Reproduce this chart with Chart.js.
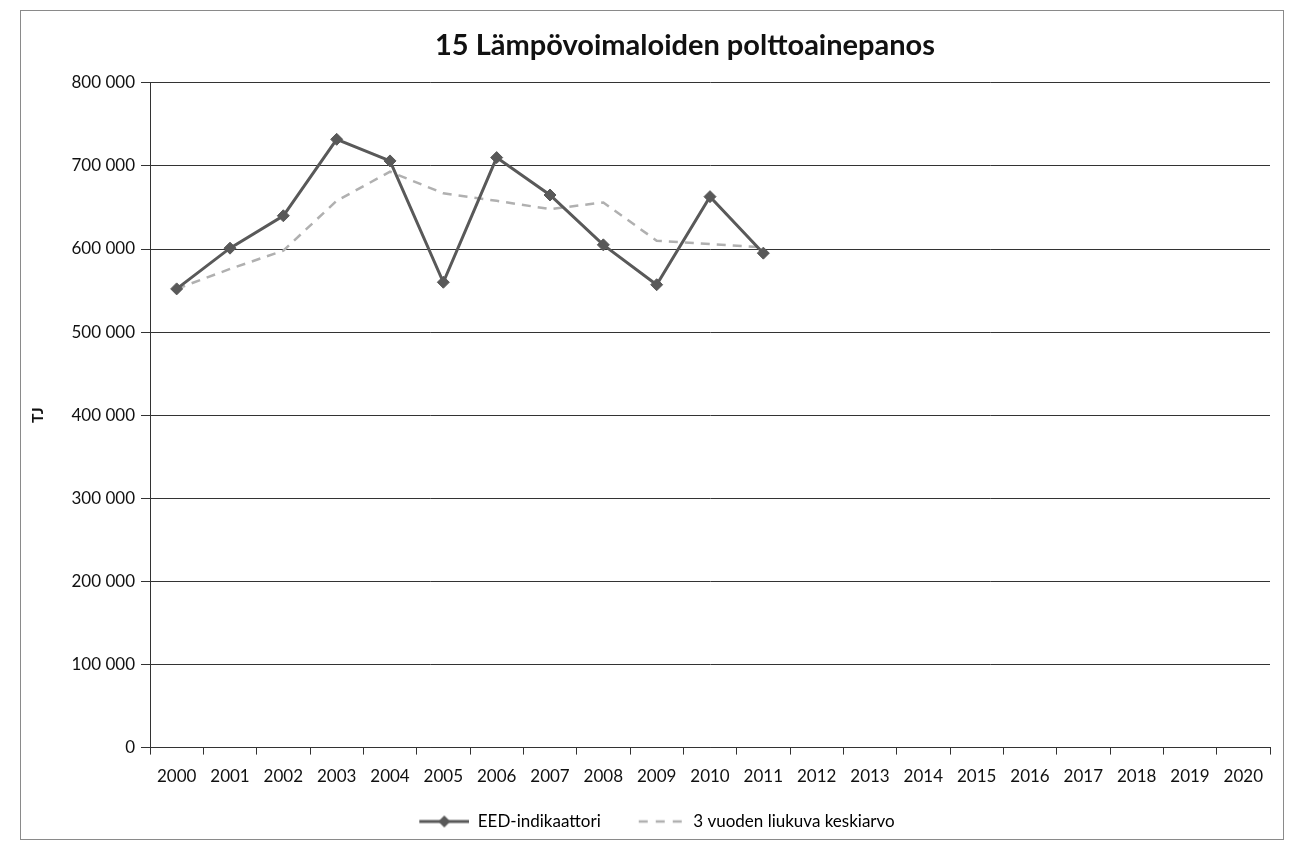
<!DOCTYPE html>
<html>
<head>
<meta charset="utf-8">
<script src="https://cdn.jsdelivr.net/npm/chart.js@4/dist/chart.umd.min.js"></script>
<style>
  html, body { margin: 0; padding: 0; background: #fff; }
  #wrap { position: absolute; left: 0; top: 0; width: 1290px; height: 850px; }
  #frame { position: absolute; left: 20px; top: 10px; width: 1262px; height: 828px; border: 1px solid #8a8a8a; pointer-events: none; }
</style>
</head>
<body>
<div id="wrap"><canvas id="c" width="1290" height="850"></canvas></div>
<div id="frame"></div>
<script>
const categories = ['2000','2001','2002','2003','2004','2005','2006','2007','2008','2009','2010','2011','2012','2013','2014','2015','2016','2017','2018','2019','2020'];
const eedValues = [552000, 601000, 640000, 732000, 706000, 560000, 710000, 665000, 605000, 557000, 663000, 595000];
const movingAvgValues = [552000, 576000, 598000, 658000, 693000, 667000, 658000, 648000, 656000, 610000, 606000, 602000];
const yTicks = [0, 100000, 200000, 300000, 400000, 500000, 600000, 700000, 800000];
const seriesNames = ['EED-indikaattori', '3 vuoden liukuva keskiarvo'];
const titleText = '15 Lämpövoimaloiden polttoainepanos';
const yAxisTitle = 'TJ';

const darkColor = '#595959';
const lightColor = '#b0b0b0';
const FONT = 'Lato, "Open Sans", sans-serif';

function legendIcon(kind) {
  const cv = document.createElement('canvas');
  cv.width = 70; cv.height = 14;
  const g = cv.getContext('2d');
  if (kind === 0) {
    g.strokeStyle = darkColor; g.lineWidth = 3;
    g.beginPath(); g.moveTo(20, 7); g.lineTo(70, 7); g.stroke();
    g.fillStyle = darkColor;
    g.beginPath(); g.moveTo(45, 1); g.lineTo(51, 7); g.lineTo(45, 13); g.lineTo(39, 7); g.closePath(); g.fill();
  } else {
    g.strokeStyle = lightColor; g.lineWidth = 2.5; g.setLineDash([9, 8]);
    g.beginPath(); g.moveTo(24, 7); g.lineTo(70, 7); g.stroke();
  }
  return cv;
}
const icons = [legendIcon(0), legendIcon(1)];

function fmt(v) {
  return String(v).replace(/\B(?=(\d{3})+(?!\d))/g, ' ');
}

const titleShift = {
  id: 'titleShift',
  afterLayout(chart) {
    const t = chart.titleBlock;
    if (t) { t.left += 76; }
  }
};

new Chart(document.getElementById('c'), {
  type: 'line',
  data: {
    labels: categories,
    datasets: [
      {
        label: seriesNames[0],
        data: eedValues,
        borderColor: darkColor,
        backgroundColor: darkColor,
        borderWidth: 3,
        pointStyle: 'rectRot',
        pointRadius: 6,
        pointHoverRadius: 6,
        pointBackgroundColor: darkColor,
        pointBorderColor: darkColor,
        pointBorderWidth: 1,
        tension: 0,
        order: 1
      },
      {
        label: seriesNames[1],
        data: movingAvgValues,
        borderColor: lightColor,
        backgroundColor: lightColor,
        borderWidth: 2.5,
        borderDash: [9, 7],
        pointRadius: 0,
        tension: 0,
        order: 2
      }
    ]
  },
  plugins: [titleShift],
  options: {
    responsive: false,
    animation: false,
    layout: { padding: { left: 24, right: 20, top: 16, bottom: 10 } },
    plugins: {
      title: {
        display: true,
        text: titleText,
        color: '#111',
        font: { family: FONT, size: 29, weight: 'bold' },
        padding: { top: 12, bottom: 20 }
      },
      legend: {
        display: true,
        position: 'bottom',
        labels: {
          usePointStyle: true,
          pointStyleWidth: 70,
          color: '#222',
          font: { family: FONT, size: 17 },
          padding: 14,
          generateLabels: (chart) => chart.data.datasets.map((ds, i) => ({
            text: ds.label,
            pointStyle: icons[i],
            fillStyle: ds.borderColor,
            strokeStyle: ds.borderColor,
            lineWidth: 0,
            datasetIndex: i,
            hidden: false
          }))
        }
      },
      tooltip: { enabled: false }
    },
    scales: {
      x: {
        type: 'category',
        offset: true,
        grid: {
          offset: true,
          drawOnChartArea: false,
          drawTicks: true,
          tickLength: 7,
          color: '#333'
        },
        border: { display: true, color: '#333', width: 1 },
        ticks: {
          color: '#111',
          font: { family: FONT, size: 17 },
          maxRotation: 0,
          autoSkip: false,
          padding: 12
        }
      },
      y: {
        min: 0,
        max: 800000,
        afterBuildTicks: (scale) => { scale.ticks = yTicks.map(v => ({ value: v })); },
        afterFit: (scale) => { scale.width = 126; },
        grid: {
          color: '#333',
          lineWidth: 1,
          drawTicks: true,
          tickLength: 9
        },
        border: { display: true, color: '#333', width: 1 },
        ticks: {
          color: '#111',
          font: { family: FONT, size: 17 },
          padding: 6,
          callback: (v) => fmt(v)
        },
        title: {
          display: true,
          text: yAxisTitle,
          color: '#111',
          font: { family: FONT, size: 16, weight: 'bold' },
          padding: { top: 4, bottom: 10 }
        }
      }
    }
  }
});
</script>
</body>
</html>
